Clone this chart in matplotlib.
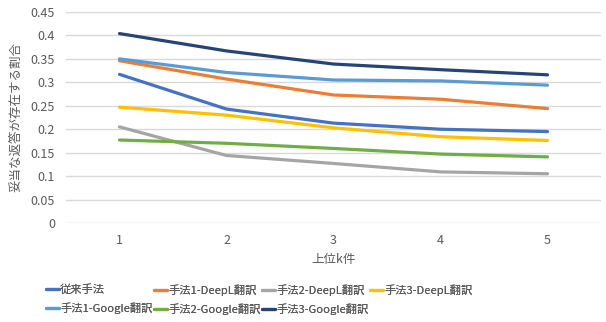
import matplotlib
matplotlib.use("Agg")
import matplotlib.pyplot as plt

plt.rcParams['font.family'] = ['Noto Sans CJK JP', 'DejaVu Sans']

k_values = [1, 2, 3, 4, 5]
series_names = ["従来手法", "手法1-DeepL翻訳", "手法2-DeepL翻訳", "手法3-DeepL翻訳",
                "手法1-Google翻訳", "手法2-Google翻訳", "手法3-Google翻訳"]
conventional = [0.317, 0.243, 0.213, 0.200, 0.195]
m1_deepl = [0.346, 0.307, 0.273, 0.264, 0.244]
m2_deepl = [0.205, 0.144, 0.127, 0.109, 0.105]
m3_deepl = [0.247, 0.230, 0.203, 0.184, 0.176]
m1_google = [0.350, 0.321, 0.305, 0.303, 0.294]
m2_google = [0.177, 0.170, 0.159, 0.147, 0.141]
m3_google = [0.404, 0.367, 0.339, 0.327, 0.316]
y_ticks = [0, 0.05, 0.1, 0.15, 0.2, 0.25, 0.3, 0.35, 0.4, 0.45]
y_tick_labels = ["0", "0.05", "0.1", "0.15", "0.2", "0.25", "0.3", "0.35", "0.4", "0.45"]

all_series = [conventional, m1_deepl, m2_deepl, m3_deepl, m1_google, m2_google, m3_google]
colors = ["#4472C4", "#ED7D31", "#A5A5A5", "#FFC000", "#5B9BD5", "#70AD47", "#264478"]

fig = plt.figure(figsize=(6.06, 3.22), dpi=100)
ax = fig.add_axes([66/606, 1-223/322, (601-66)/606, (223-12)/322])

lines = []
for vals, name, c in zip(all_series, series_names, colors):
    ln, = ax.plot(k_values, vals, color=c, linewidth=2.3, label=name, solid_capstyle='round')
    lines.append(ln)

ax.set_xlim(0.5, 5.5)
ax.set_ylim(0, 0.45)
ax.set_yticks(y_ticks)
ax.set_yticklabels(y_tick_labels)
ax.set_xticks(k_values)
ax.grid(axis='y', color='#D9D9D9', linewidth=1)
ax.set_axisbelow(True)
for s in ax.spines.values():
    s.set_visible(False)
ax.tick_params(axis='both', length=0, colors='#595959', labelsize=9)
ax.tick_params(axis='y', pad=8)
ax.tick_params(axis='x', pad=8)

ax.set_xlabel("上位k件", color='#595959', fontsize=9, labelpad=4)
ax.set_ylabel("妥当な返答が存在する割合", color='#595959', fontsize=9, labelpad=6)

# legend: 4 equal-width columns, row-wise order
columns = [[0, 4], [1, 5], [2, 6], [3]]
col_x = [46, 154, 262, 370]
for idxs, x in zip(columns, col_x):
    leg = fig.legend([lines[i] for i in idxs], [series_names[i] for i in idxs],
                     loc='upper left', bbox_to_anchor=(x/606, 1-284/322), ncol=1,
                     frameon=False, fontsize=8.1, handlelength=1.15, handletextpad=0.1,
                     labelspacing=0.65, borderpad=0, borderaxespad=0)
    for t in leg.get_texts():
        t.set_color('#595959')
    fig.add_artist(leg)

fig.savefig("out.png", dpi=100)
